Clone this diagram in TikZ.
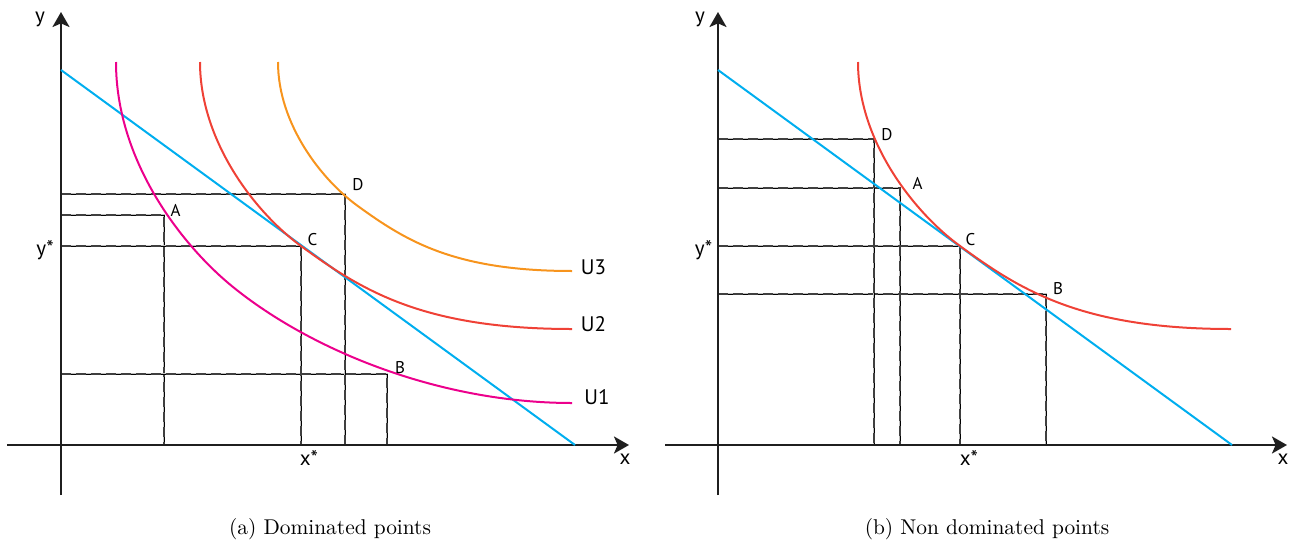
\documentclass[tikz,border=0pt]{standalone}
\usepackage{fontspec}
\newfontfamily\lblfont{PT Sans}
\usetikzlibrary{arrows.meta}
\definecolor{budget}{RGB}{0,174,239}
\definecolor{uone}{RGB}{236,0,140}
\definecolor{utwo}{RGB}{239,65,54}
\definecolor{uthree}{RGB}{247,148,29}
\tikzset{
  axis/.style={line width=1.15pt, draw=black!88, -{Stealth[length=7.5pt,width=8.5pt,inset=1.8pt]}},
  budgetline/.style={draw=budget, line width=1pt},
  icurve/.style={line width=1pt},
  dline/.style={draw=black, line width=0.4pt,
    preaction={draw=gray!50, line width=1.25pt},
    postaction={draw=black!75, line width=1.25pt, dash pattern=on 5pt off 2.5pt}},
  ptlabel/.style={font=\lblfont\fontsize{8.5}{10}\selectfont, inner sep=0pt},
  axlabel/.style={font=\lblfont\fontsize{10.5}{12}\selectfont, inner sep=0pt},
  caplabel/.style={font=\fontsize{10.7}{13}\selectfont, inner sep=0pt}
}
\begin{document}
\begin{tikzpicture}[x=0.5pt,y=-0.5pt]
\useasboundingbox (0,0) rectangle (1296,552);
% ---------- left panel ----------
\coordinate (O1) at (61,445);
\coordinate (Y1t) at (61,12);
\coordinate (Y1b) at (61,495);
\coordinate (X1a) at (7,445);
\coordinate (X1t) at (629,445);
\coordinate (A1) at (164,215);
\coordinate (B1) at (387,374);
\coordinate (C1) at (301,246);
\coordinate (D1) at (345,194);
\draw[dline] (A1 -| O1) -- (A1) -- (A1 |- O1);
\draw[dline] (B1 -| O1) -- (B1) -- (B1 |- O1);
\draw[dline] (C1 -| O1) -- (C1) -- (C1 |- O1);
\draw[dline] (D1 -| O1) -- (D1) -- (D1 |- O1);
\draw[axis] (Y1b) -- (Y1t);
\draw[axis] (X1a) -- (X1t);
\coordinate (BL1s) at (61,70);
\coordinate (BL1e) at (575,445);
\draw[budgetline] (BL1s) -- (BL1e);
\draw[icurve, uone] (116,62) .. controls (116,162) and (183,246.5) .. (233,287)
  .. controls (313,351.8) and (442,403) .. (572,403);
\draw[icurve, utwo] (200,62) .. controls (200,142) and (256,213.2) .. (C1)
  .. controls (361,289.8) and (422,329) .. (572,329);
\draw[icurve, uthree] (278,62) .. controls (278,124.6) and (322.3,180.4) .. (357.8,206)
  .. controls (405.2,240.3) and (453.5,271) .. (572,271);
\node[axlabel] (ly1) at (40,19) {y};
\node[axlabel] (lx1) at (625,459) {x};
\node[axlabel] (lys1) at (45,250) {y*};
\node[axlabel] (lxs1) at (309,458) {x*};
\node[ptlabel] (lA1) at (175.5,210) {A};
\node[ptlabel] (lB1) at (400,368) {B};
\node[ptlabel] (lC1) at (312.5,240) {C};
\node[ptlabel] (lD1) at (358,185) {D};
\node[axlabel] (lU3) at (593.5,267) {U3};
\node[axlabel] (lU2) at (593.5,324) {U2};
\node[axlabel] (lU1) at (597,397) {U1};
\node[caplabel] (cap1) at (330,529) {(a) Dominated points};
% ---------- right panel ----------
\coordinate (O2) at (718,445);
\coordinate (Y2t) at (718,12);
\coordinate (Y2b) at (718,495);
\coordinate (X2a) at (665,445);
\coordinate (X2t) at (1287,445);
\coordinate (A2) at (900,188);
\coordinate (B2) at (1046,294);
\coordinate (C2) at (960,246);
\coordinate (D2) at (874,139);
\draw[dline] (A2 -| O2) -- (A2) -- (A2 |- O2);
\draw[dline] (B2 -| O2) -- (B2) -- (B2 |- O2);
\draw[dline] (C2 -| O2) -- (C2) -- (C2 |- O2);
\draw[dline] (D2 -| O2) -- (D2) -- (D2 |- O2);
\draw[axis] (Y2b) -- (Y2t);
\draw[axis] (X2a) -- (X2t);
\coordinate (BL2s) at (718,70);
\coordinate (BL2e) at (1232,445);
\draw[budgetline] (BL2s) -- (BL2e);
\draw[icurve, utwo] (858,62) .. controls (858,142) and (915,213.2) .. (C2)
  .. controls (1020,289.8) and (1081,329) .. (1231,329);
\node[axlabel] (ly2) at (700,19) {y};
\node[axlabel] (lx2) at (1283,459) {x};
\node[axlabel] (lys2) at (703.5,250) {y*};
\node[axlabel] (lxs2) at (969,458) {x*};
\node[ptlabel] (lA2) at (917.5,183) {A};
\node[ptlabel] (lB2) at (1058,289) {B};
\node[ptlabel] (lC2) at (970.5,240) {C};
\node[ptlabel] (lD2) at (887,135) {D};
\node[caplabel] (cap2) at (987,529) {(b) Non dominated points};
\end{tikzpicture}
\end{document}
